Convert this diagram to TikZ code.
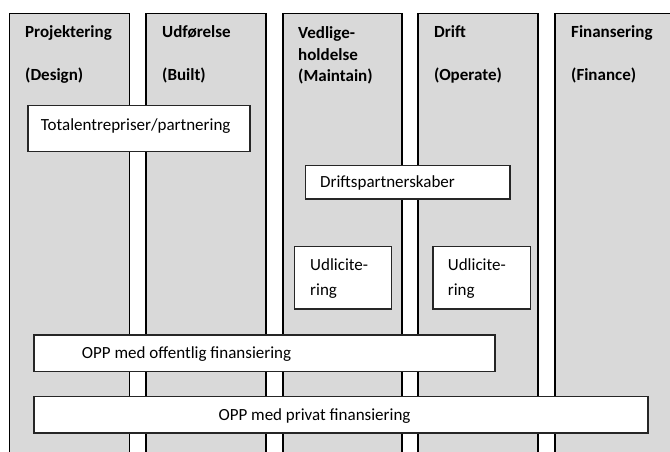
\documentclass[tikz,border=0pt]{standalone}
\usepackage{fontspec}
\setmainfont{Carlito}
\definecolor{colfill}{HTML}{D9D9D9}
\tikzset{
  colline/.style={line width=1.8pt, black, line cap=rect},
  boxstyle/.style={draw=black!85, line width=1.2pt, fill=white, anchor=north west, inner sep=0pt},
  hdr/.style={anchor=base west, inner sep=0pt, font=\fontsize{17}{21.5}\selectfont\bfseries},
  txt/.style={anchor=base west, inner sep=0pt, font=\fontsize{17}{25}\selectfont, align=left},
}
\begin{document}
\begin{tikzpicture}[x=1pt,y=-1pt]
\useasboundingbox (0,0) rectangle (670,452);
% columns
\foreach \a/\b in {9.5/129.5,146/266,283/402,418/538,555/690}{
  \fill[colfill] (\a,13.5) rectangle (\b,470);
  \draw[colline] (\a,470) -- (\a,13.5) -- (\b,13.5) -- (\b,470);
}
% column headings
\node[hdr] (h1a) at (25,37.5) {Projektering};
\node[hdr] (h1b) at (25,80.5) {(Design)};
\node[hdr] (h2a) at (162,37.5) {Udførelse};
\node[hdr] (h2b) at (162,80.5) {(Built)};
\node[hdr] (h3a) at (298,38.5) {Vedlige-};
\node[hdr] (h3b) at (298,60.5) {holdelse};
\node[hdr] (h3c) at (298,81.5) {(Maintain)};
\node[hdr] (h4a) at (434,37.5) {Drift};
\node[hdr] (h4b) at (434,80.5) {(Operate)};
\node[hdr] (h5a) at (571,37.5) {Finansering};
\node[hdr] (h5b) at (571,80.5) {(Finance)};
% boxes
\node[boxstyle, minimum width=222pt, minimum height=45.7pt] (tot) at (27.3,105) {};
\node[txt] (tott) at (40.7,130) {Totalentrepriser/partnering};
\node[boxstyle, minimum width=204.3pt, minimum height=33.3pt] (dp) at (305,165) {};
\node[txt] (dpt) at (320,187.3) {Driftspartnerskaber};
\node[boxstyle, minimum width=96.7pt, minimum height=62.3pt] (u1) at (294,246) {};
\node[txt] (u1t) at (310,270) {Udlicite-};
\node[txt] (u1r) at (310,295) {ring};
\node[boxstyle, minimum width=97.7pt, minimum height=62.3pt] (u2) at (432.3,246) {};
\node[txt] (u2t) at (447.7,270) {Udlicite-};
\node[txt] (u2r) at (447.7,295) {ring};
\node[boxstyle, minimum width=461pt, minimum height=36.4pt] (opo) at (33.3,334.3) {};
\node[txt] (opot) at (81.7,358.3) {OPP med offentlig finansiering};
\node[boxstyle, minimum width=614pt, minimum height=36.6pt] (opp) at (33.3,395.7) {};
\node[txt] (oppt) at (218.3,420) {OPP med privat finansiering};
\end{tikzpicture}
\end{document}
